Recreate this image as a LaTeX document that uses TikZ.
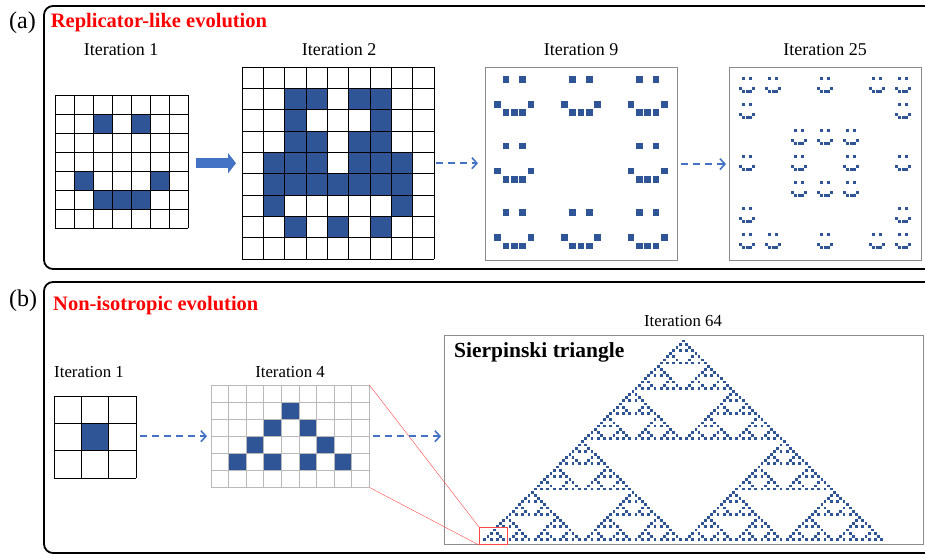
\documentclass[tikz,border=0pt]{standalone}
\usepackage{fontspec}
\setmainfont{Liberation Serif}
\usetikzlibrary{arrows.meta}
\definecolor{cellblue}{RGB}{47,85,151}
\definecolor{arrowblue}{RGB}{68,114,196}
\definecolor{boxgray}{RGB}{140,140,140}
\definecolor{gridgray}{RGB}{185,185,185}
\definecolor{zoomred}{RGB}{255,70,70}
\tikzset{
  panel/.style={draw=black, line width=1.8pt, rounded corners=9pt},
  cellbox/.style={inner sep=0pt, anchor=north west},
  outbox/.style={cellbox, draw=boxgray, line width=1.2pt},
  dasharrow/.style={arrowblue, line width=2pt, dash pattern=on 7pt off 5pt,
    -{Straight Barb[length=5pt,width=11pt,line width=1.6pt]}},
  blockarrow/.style={arrowblue, line width=10pt, -{Triangle[length=8pt,width=20pt]}},
  itlabel/.style={anchor=base, inner sep=0pt, font=\fontsize{18}{20}\selectfont},
  itlabelb/.style={anchor=base, inner sep=0pt, font=\fontsize{16.8}{19}\selectfont},
  paneltitle/.style={anchor=base west, inner sep=0pt, text=red, font=\fontsize{20.5}{23}\selectfont\bfseries},
  paneltag/.style={anchor=base west, inner sep=0pt, font=\fontsize{24}{26}\selectfont},
}
\begin{document}
\begin{tikzpicture}[x=1pt, y=-1pt]
\clip (0,0) rectangle (925,555);
% frames of the two panels
\draw[panel] (44,6) rectangle (960,269);
\draw[panel] (44,282) rectangle (960,553);
\node[paneltag] (taga) at (9,28) {(a)};
\node[paneltitle] (titlea) at (50.7,27) {Replicator-like evolution};
\node[paneltag] (tagb) at (9,306) {(b)};
\node[paneltitle] (titleb) at (53,310) {Non-isotropic evolution};

% (a) iteration 1
\node[itlabel] (la1) at (121,55) {Iteration 1};
\node[cellbox, minimum width=133pt, minimum height=133pt] (ra1) at (55,95) {};
\foreach \c/\r in {2/1,4/1,1/4,5/4,2/5,3/5,4/5}
  \fill[cellblue] ({55+\c*19}, {95+\r*19}) rectangle ++(19,19);
\foreach \i in {0,...,7} {
  \draw ({55+\i*19},95) -- ({55+\i*19},228);
  \draw (55,{95+\i*19}) -- (188,{95+\i*19});
}

% (a) iteration 2
\node[itlabel] (la2) at (339,55) {Iteration 2};
\node[cellbox, minimum width=192pt, minimum height=192pt] (ra2) at (242,67) {};
\foreach \c/\r in {2/1,3/1,5/1,6/1,2/2,6/2,2/3,3/3,5/3,6/3,
                   1/4,2/4,3/4,5/4,6/4,7/4,1/5,2/5,3/5,4/5,5/5,6/5,7/5,
                   1/6,7/6,2/7,4/7,6/7}
  \fill[cellblue] ({242+\c*21.33}, {67+\r*21.33}) rectangle ++(21.33,21.33);
\foreach \i in {0,...,9} {
  \draw ({242+\i*21.33},67) -- ({242+\i*21.33},259);
  \draw (242,{67+\i*21.33}) -- (434,{67+\i*21.33});
}

% (a) iteration 9
\node[itlabel] (la9) at (581,55) {Iteration 9};
\node[outbox, minimum width=192pt, minimum height=193pt] (ra9) at (485,67) {};
\foreach \sx/\sy in {0/0,1/0,2/0,0/1,2/1,0/2,1/2,2/2}
  \foreach \c/\r in {2/1,4/1,1/4,5/4,2/5,3/5,4/5}
    \fill[cellblue] ({486+(\sx*8+\c)*8.33}, {67.6+(\sy*8+\r)*8.33}) rectangle ++(6.8,6.8);

% (a) iteration 25
\node[itlabel] (la25) at (825,55) {Iteration 25};
\node[outbox, minimum width=192pt, minimum height=193pt] (ra25) at (729,67) {};
\foreach \sx/\sy in {0/0,1/0,3/0,5/0,6/0,0/1,6/1,2/2,3/2,4/2,
                     0/3,2/3,4/3,6/3,2/4,3/4,4/4,0/5,6/5,0/6,1/6,3/6,5/6,6/6}
  \foreach \c/\r in {2/1,4/1,1/4,5/4,2/5,3/5,4/5}
    \fill[cellblue] ({735.9+(\sx*8+\c)*3.25}, {73.5+(\sy*8+\r)*3.25}) rectangle ++(3,3);

\draw[blockarrow] ([xshift=8pt]ra1.east |- ra2.west) -- ([xshift=-6pt]ra2.west);
\draw[dasharrow] ([xshift=2pt]ra2.east) -- ([xshift=-7pt]ra9.west |- ra2.east);
\draw[dasharrow] ([xshift=3pt]ra9.east) -- ([xshift=-3pt]ra25.west);

% (b) iteration 1
\node[itlabelb] (lb1) at (89,377) {Iteration 1};
\node[cellbox, minimum width=82pt, minimum height=82pt] (rb1) at (54,396) {};
\fill[cellblue] ({54+27.33},{396+27.33}) rectangle ++(27.33,27.33);
\foreach \i in {0,...,3} {
  \draw ({54+\i*27.33},396) -- ({54+\i*27.33},478);
  \draw (54,{396+\i*27.33}) -- (136,{396+\i*27.33});
}

% (b) iteration 4
\node[itlabelb] (lb4) at (290,377) {Iteration 4};
\node[cellbox, minimum width=158pt, minimum height=102pt] (rb4) at (211,385) {};
\foreach \c/\r in {4/1,3/2,5/2,2/3,6/3,1/4,3/4,5/4,7/4}
  \fill[cellblue] ({211+\c*17.56}, {385+\r*17}) rectangle ++(17.56,17);
\foreach \i in {0,...,9}
  \draw[gridgray] ({211+\i*17.56},385) -- ({211+\i*17.56},487);
\foreach \i in {0,...,6}
  \draw[gridgray] (211,{385+\i*17}) -- (369,{385+\i*17});

% (b) iteration 64
\node[itlabelb] (lb64) at (683,326) {Iteration 64};
\node[outbox, minimum width=479pt, minimum height=209pt] (rb64) at (444,335) {};
\node[anchor=base west, inner sep=0pt, font=\fontsize{21.5}{24}\selectfont\bfseries]
  (sier) at (454,357) {Sierpinski triangle};
\foreach \xa/\ya in {0/0,-1/1,1/1}
\foreach \xb/\yb in {0/0,-2/2,2/2}
\foreach \xc/\yc in {0/0,-4/4,4/4}
\foreach \xd/\yd in {0/0,-8/8,8/8}
\foreach \xe/\ye in {0/0,-16/16,16/16}
\foreach \xf/\yf in {0/0,-32/32,32/32}
  \fill[cellblue] ({681.9+((\xa)+(\xb)+(\xc)+(\xd)+(\xe)+(\xf))*3.15},
                   {339.6+((\ya)+(\yb)+(\yc)+(\yd)+(\ye)+(\yf))*3.15}) rectangle ++(2.8,2.8);

% zoomed corner
\node[cellbox, draw=zoomred, line width=1pt, minimum width=28pt, minimum height=17pt] (zoombox) at (479,527) {};
\draw[zoomred] (rb4.north east) -- (zoombox.north west);
\draw[zoomred] (rb4.south east) -- (zoombox.south west);

\draw[dasharrow] ([xshift=4pt]rb1.east |- rb4.west) -- ([xshift=-4pt]rb4.west);
\draw[dasharrow] ([xshift=4pt]rb4.east) -- ([xshift=-3pt]rb64.west |- rb4.east);
\end{tikzpicture}
\end{document}
